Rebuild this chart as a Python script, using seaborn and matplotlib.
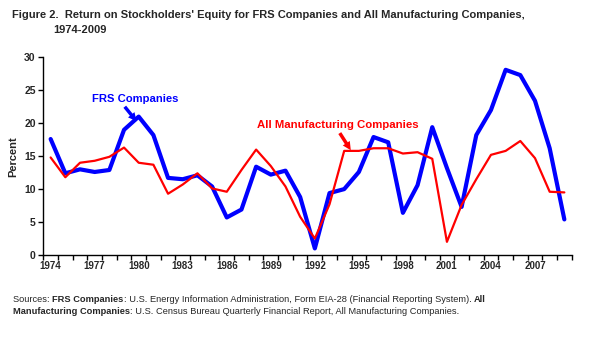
import numpy as np
import pandas as pd
import matplotlib
matplotlib.use("Agg")
import matplotlib.pyplot as plt
import seaborn as sns

# Data
years = list(range(1974, 2010))
frs = [17.6, 12.4, 13.0, 12.6, 12.9, 19.0, 21.0, 18.2, 11.7, 11.5,
       12.1, 10.4, 5.7, 6.9, 13.4, 12.2, 12.8, 8.8, 1.0, 9.4,
       10.0, 12.6, 17.9, 17.1, 6.4, 10.6, 19.4, 13.2, 7.3, 18.2,
       22.0, 28.1, 27.3, 23.4, 16.2, 5.4]
all_mfg = [14.8, 11.8, 14.0, 14.3, 14.9, 16.3, 14.0, 13.7, 9.3, 10.7,
           12.4, 10.1, 9.6, 12.9, 16.0, 13.5, 10.4, 5.8, 2.5, 7.7,
           15.8, 15.8, 16.2, 16.2, 15.4, 15.6, 14.6, 2.0, 7.6, 11.5,
           15.2, 15.8, 17.3, 14.7, 9.6, 9.5]
label_years = list(range(1974, 2010, 3))
y_ticks = [0, 5, 10, 15, 20, 25, 30]

sns.set_style("white")
plt.rcParams['font.family'] = ['Liberation Sans', 'DejaVu Sans']

fig = plt.figure(figsize=(5.99, 3.49), dpi=100)
ax = fig.add_axes([0.0723, 0.2693, 0.8821, 0.5665])

df = pd.DataFrame({'Year': years, 'FRS': frs, 'All': all_mfg})
sns.lineplot(data=df, x='Year', y='FRS', color='#0000FF', lw=3.0, ax=ax)
sns.lineplot(data=df, x='Year', y='All', color='#FF0000', lw=1.6, ax=ax)

ax.set_xlim(years[0] - 0.5, years[-1] + 0.5)
ax.set_ylim(0, 30)
ax.set_yticks(y_ticks)
ax.set_yticklabels([str(v) for v in y_ticks], fontsize=7.5, fontweight='bold')
# tick marks between categories, labels every third year
ax.set_xticks(np.arange(years[0] - 0.5, years[-1] + 1, 1.0))
ax.set_xticklabels([])
ax.set_xticks(label_years, minor=True)
ax.set_xticklabels([str(y) for y in label_years], minor=True, fontsize=7, fontweight='bold')
ax.tick_params(axis='x', which='major', length=3.5, width=1, color='black', direction='out', bottom=True)
ax.tick_params(axis='x', which='minor', length=0, pad=4)
ax.tick_params(axis='y', length=3.5, width=1, color='black', direction='out', left=True, pad=2)
ax.set_xlabel('')
ax.set_ylabel('Percent', fontsize=8, fontweight='bold', labelpad=4)

for s in ['top', 'right']:
    ax.spines[s].set_visible(False)
for s in ['left', 'bottom']:
    ax.spines[s].set_color('black')
    ax.spines[s].set_linewidth(1)

# series labels with arrows
ax.text(1979.76, 23.6, 'FRS Companies', color='#0000FF', fontsize=8.1,
        fontweight='bold', ha='center', va='center')
ax.annotate('', xy=(1979.85, 20.3), xytext=(1979.05, 22.5),
            arrowprops=dict(arrowstyle='simple,head_width=0.6,head_length=0.6,tail_width=0.25',
                            color='#0000FF', lw=0, shrinkA=0, shrinkB=0))
ax.text(1993.57, 19.7, 'All Manufacturing Companies', color='#FF0000', fontsize=8.2,
        fontweight='bold', ha='center', va='center')
ax.annotate('', xy=(1994.45, 15.9), xytext=(1993.7, 18.5),
            arrowprops=dict(arrowstyle='simple,head_width=0.6,head_length=0.6,tail_width=0.25',
                            color='#FF0000', lw=0, shrinkA=0, shrinkB=0))

# title
fig.text(12 / 599, 1 - 15 / 349,
         "Figure 2.  Return on Stockholders' Equity for FRS Companies and All Manufacturing Companies,",
         fontsize=8.0, fontweight='bold', va='center', ha='left')
fig.text(53 / 599, 1 - 30 / 349, '1974-2009', fontsize=8.0, fontweight='bold', va='center', ha='left')

# source note with mixed bold / regular runs
fig.canvas.draw()
renderer = fig.canvas.get_renderer()
W = fig.get_figwidth() * fig.dpi


def runs(parts, x0, y0):
    x = x0
    for txt, bold in parts:
        t = fig.text(x, y0, txt, fontsize=6.7, fontweight='bold' if bold else 'normal',
                     va='center', ha='left')
        x += t.get_window_extent(renderer).width / W


runs([('Sources: ', False), ('FRS Companies', True),
      (': U.S. Energy Information Administration, Form EIA-28 (Financial Reporting System). ', False),
      ('All', True)], 13 / 599, 1 - 299 / 349)
runs([('Manufacturing Companies', True),
      (': U.S. Census Bureau Quarterly Financial Report, All Manufacturing Companies.', False)],
     13 / 599, 1 - 312 / 349)

fig.savefig('out.png', dpi=100, facecolor='white')
